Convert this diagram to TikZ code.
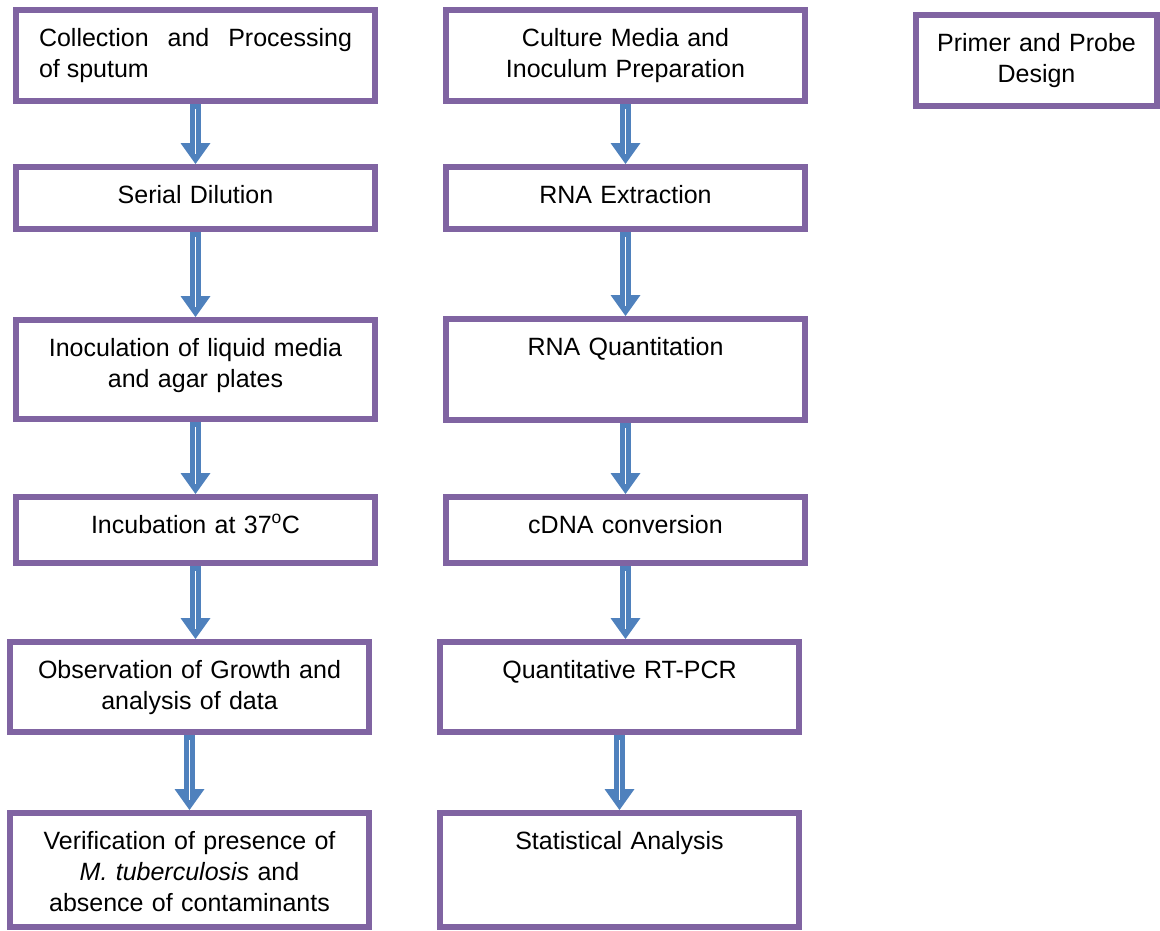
\documentclass[tikz,border=0pt]{standalone}
\usepackage{fontspec}
\setmainfont{Liberation Sans}
\usetikzlibrary{arrows.meta, positioning}
\definecolor{boxpurple}{RGB}{128,100,162}
\definecolor{flowblue}{RGB}{79,129,189}

\begin{document}
\begin{tikzpicture}[
  x=1pt, y=1pt,
  node distance=60pt,
  stepbox/.style={draw=boxpurple, line width=6pt, fill=white,
                  text width=313pt, inner xsep=23pt, inner ysep=0pt,
                  text height=36pt, align=center,
                  font=\fontsize{25pt}{31pt}\selectfont},
  flow/.style={draw=flowblue, line width=11pt,
               -{Triangle[width=30pt, length=21pt, line width=0pt]},
               postaction={draw=white, line width=1.5pt, -,
                           shorten <=5pt, shorten >=10pt}},
]
\useasboundingbox (0,0) rectangle (1160,-930);

%% Column 1: culture of sputum
\node[stepbox, anchor=north west, align=justify, text depth=55pt] (sputum) at (13,-7)
  {Collection and Processing\linebreak of sputum};
\node[stepbox, below=60pt of sputum, text depth=26pt] (dilution) {Serial Dilution};
\node[stepbox, below=85pt of dilution, text depth=63pt] (inoc)
  {Inoculation of liquid media\\and agar plates};
\node[stepbox, below=72pt of inoc, text depth=30pt] (incub)
  {Incubation at 37\textsuperscript{o}C};
\node[stepbox, below=73pt of incub, xshift=-6pt, text depth=54pt] (growth)
  {Observation of Growth and\\analysis of data};
\node[stepbox, below=75pt of growth, text depth=78pt] (verify)
  {Verification of presence of\\\textit{M. tuberculosis} and\\absence of contaminants};

%% Column 2: RNA work
\node[stepbox, anchor=north west, text depth=55pt] (media) at (443,-7)
  {Culture Media and\\Inoculum Preparation};
\node[stepbox, below=60pt of media, text depth=26pt] (rnaext) {RNA Extraction};
\node[stepbox, below=84pt of rnaext, text depth=65pt] (rnaquant) {RNA Quantitation};
\node[stepbox, below=71pt of rnaquant, text depth=30pt] (cdna) {cDNA conversion};
\node[stepbox, below=73pt of cdna, xshift=-6pt, text depth=54pt] (qpcr)
  {Quantitative RT-PCR};
\node[stepbox, below=75pt of qpcr, text depth=78pt] (stats) {Statistical Analysis};

%% Column 3: design
\node[stepbox, anchor=north west, text width=201pt, inner xsep=20pt,
      text depth=55pt] (primer) at (913,-12) {Primer and Probe\\Design};

%% Arrows
\draw[flow] (sputum.south)   -- (dilution.north);
\draw[flow] (dilution.south) -- (inoc.north);
\draw[flow] (inoc.south)     -- (incub.north);
\draw[flow] (incub.south)    -- (incub.south |- growth.north);
\draw[flow] (growth.south)   -- (verify.north);

\draw[flow] (media.south)    -- (rnaext.north);
\draw[flow] (rnaext.south)   -- (rnaquant.north);
\draw[flow] (rnaquant.south) -- (cdna.north);
\draw[flow] (cdna.south)     -- (cdna.south |- qpcr.north);
\draw[flow] (qpcr.south)     -- (stats.north);

\end{tikzpicture}
\end{document}
